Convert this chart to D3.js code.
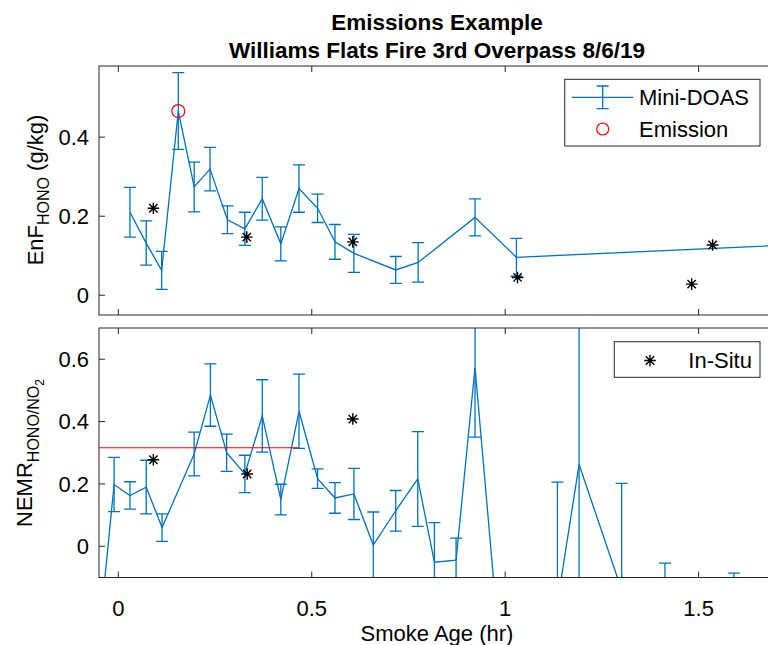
<!DOCTYPE html>
<html><head><meta charset="utf-8">
<script src="https://cdn.jsdelivr.net/npm/d3@7"></script>
<style>body{margin:0;background:#fff}svg{display:block}text{font-family:"Liberation Sans",Arial,sans-serif;fill:#000}</style>
</head><body><svg id="c" width="768" height="645"></svg>
<script>
// ---- data ----
const doasX   = [0.030,0.072,0.112,0.155,0.196,0.237,0.282,0.327,0.372,0.420,0.467,0.515,0.560,0.609,0.717,0.775,0.922,1.029,1.75];
const enfY    = [0.210,0.132,0.063,0.466,0.274,0.319,0.191,0.168,0.244,0.130,0.270,0.220,0.135,0.106,0.064,0.083,0.197,0.096,0.128];
const enfErr  = [0.063,0.056,0.048,0.097,0.063,0.055,0.035,0.042,0.054,0.043,0.060,0.036,0.044,0.048,0.034,0.050,0.047,0.048,0.050];
const emisX   = [0.155];
const emisY   = [0.466];
const insituX = [0.0905,0.332,0.606,1.032,1.482,1.536];
const insituEnF = [0.220,0.147,0.135,0.045,0.028,0.127];

const nemrX   = [-0.045,-0.011,0.030,0.072,0.113,0.196,0.238,0.280,0.327,0.372,0.420,0.467,0.515,0.560,0.609,0.659,0.717,0.774,0.817,0.873,0.922,0.980,1.135,1.191,1.301,1.413,1.591];
const nemrY   = [-0.23,0.198,0.163,0.190,0.060,0.296,0.485,0.300,0.232,0.418,0.150,0.433,0.217,0.155,0.168,0.004,0.114,0.216,-0.051,-0.044,0.573,-0.25,-0.181,0.2625,-0.14,-0.30,-0.30];
const nemrErr = [0.10,0.087,0.044,0.086,0.044,0.070,0.100,0.060,0.060,0.116,0.049,0.119,0.031,0.049,0.082,0.106,0.065,0.152,0.127,0.070,0.223,0.10,0.387,0.50,0.342,0.246,0.214];
const insituNemrX = [0.0905,0.333,0.606];
const insituNemr  = [0.2775,0.232,0.408];
const emisLineX = [-0.05,0.467];
const emisLineY = [0.316,0.316];

const xTicks = [0,0.5,1,1.5];
const xTickLabels = ["0","0.5","1","1.5"];
const enfTicks = [0,0.2,0.4];
const nemrTicks = [0,0.2,0.4,0.6];

const titleLines = ["Emissions Example","Williams Flats Fire 3rd Overpass 8/6/19"];

// ---- layout ----
const svg = d3.select("#c");
const BLUE = "#0072BD", AX = "#262626";
const L = 99, R = 776;
const x = d3.scaleLinear().domain([-0.05,1.7]).range([L,R]);
const yTop = d3.scaleLinear().domain([-0.05,0.58]).range([315,66]);
const yBot = d3.scaleLinear().domain([-0.1,0.7]).range([577.5,328]);

function panel(id, y, ticks) {
  const [b,t] = y.range();
  svg.append("clipPath").attr("id",id).append("rect").attr("x",L).attr("y",t).attr("width",R-L).attr("height",b-t);
  const g = svg.append("g");
  xTicks.forEach(v=>{
    g.append("line").attr("x1",x(v)).attr("x2",x(v)).attr("y1",b).attr("y2",b-6).attr("stroke",AX);
    g.append("line").attr("x1",x(v)).attr("x2",x(v)).attr("y1",t).attr("y2",t+6).attr("stroke",AX);
  });
  ticks.forEach(v=>{
    g.append("line").attr("x1",L).attr("x2",L+6).attr("y1",y(v)).attr("y2",y(v)).attr("stroke",AX);
    g.append("text").attr("x",89).attr("y",y(v)).attr("dy","0.35em").attr("text-anchor","end")
      .attr("font-size",22).text(d3.format("")(v));
  });
  const plot = svg.append("g").attr("clip-path",`url(#${id})`);
  return {g, plot, b, t};
}

function errorbars(plot, xs, ys, es, y) {
  const pts = xs.map((v,i)=>[v,ys[i],es[i]]);
  const cap = 6;
  pts.forEach(([xv,yv,e])=>{
    const px = x(xv), y1 = y(yv+e), y0 = y(yv-e);
    plot.append("path").attr("d",`M${px},${y0}V${y1}M${px-cap},${y1}H${px+cap}M${px-cap},${y0}H${px+cap}`)
      .attr("stroke",BLUE).attr("stroke-width",1.3).attr("fill","none");
  });
  plot.append("path").datum(pts).attr("d",d3.line().x(d=>x(d[0])).y(d=>y(d[1])))
    .attr("stroke",BLUE).attr("stroke-width",1.3).attr("fill","none");
}

function star(g, cx, cy, r) {
  const d = r*0.72;
  g.append("path").attr("d",`M${cx},${cy-r}V${cy+r}M${cx-r},${cy}H${cx+r}M${cx-d},${cy-d}L${cx+d},${cy+d}M${cx-d},${cy+d}L${cx+d},${cy-d}`)
    .attr("stroke","#000").attr("stroke-width",1.4).attr("fill","none");
}

// ---- top panel ----
const P1 = panel("clipTop", yTop, enfTicks);
errorbars(P1.plot, doasX, enfY, enfErr, yTop);
emisX.forEach((v,i)=>P1.plot.append("circle").attr("cx",x(v)).attr("cy",yTop(emisY[i])).attr("r",6.5)
  .attr("fill","none").attr("stroke","#FF0000").attr("stroke-width",1.2));
insituX.forEach((v,i)=>star(P1.plot, x(v), yTop(insituEnF[i]), 5.8));

// ---- bottom panel ----
const P2 = panel("clipBot", yBot, nemrTicks);
errorbars(P2.plot, nemrX, nemrY, nemrErr, yBot);
P2.plot.append("path").datum(emisLineX.map((v,i)=>[v,emisLineY[i]]))
  .attr("d",d3.line().x(d=>x(d[0])).y(d=>yBot(d[1]))).attr("stroke","#FF0000").attr("stroke-width",1.2).attr("fill","none");
insituNemrX.forEach((v,i)=>star(P2.plot, x(v), yBot(insituNemr[i]), 5.8));

// axes boxes (right edge falls outside the page)
[yTop,yBot].forEach(y=>{
  const [b,t] = y.range();
  svg.append("rect").attr("x",L).attr("y",t).attr("width",R-L).attr("height",b-t)
    .attr("fill","none").attr("stroke",AX).attr("stroke-width",1);
});

// x tick labels (bottom panel only)
xTicks.forEach((v,i)=>svg.append("text").attr("x",x(v)).attr("y",616).attr("text-anchor","middle")
  .attr("font-size",22).text(xTickLabels[i]));
svg.append("text").attr("x",437).attr("y",641).attr("text-anchor","middle").attr("font-size",22).text("Smoke Age (hr)");

// title
svg.append("text").attr("x",437).attr("y",30).attr("text-anchor","middle").attr("font-size",22.5).attr("font-weight","bold").text(titleLines[0]);
svg.append("text").attr("x",437).attr("y",58).attr("text-anchor","middle").attr("font-size",22.5).attr("font-weight","bold").text(titleLines[1]);

// y labels
const yl1 = svg.append("text").attr("transform","translate(43,190) rotate(-90)").attr("text-anchor","middle").attr("font-size",22);
yl1.append("tspan").text("EnF");
yl1.append("tspan").attr("font-size",16).attr("dy",6).text("HONO");
yl1.append("tspan").attr("dy",-6).text(" (g/kg)");
const yl2 = svg.append("text").attr("transform","translate(32,453) rotate(-90)").attr("text-anchor","middle").attr("font-size",22);
yl2.append("tspan").text("NEMR");
yl2.append("tspan").attr("font-size",16).attr("dy",7).text("HONO/NO");
yl2.append("tspan").attr("font-size",12).attr("dy",5).text("2");

// legends
const lg1 = svg.append("g");
lg1.append("rect").attr("x",564.7).attr("y",79.3).attr("width",195.3).attr("height",66.7).attr("fill","#fff").attr("stroke",AX);
lg1.append("path").attr("d","M571.7,97.3H633.3M602.7,86V108.7M596.7,86H608.7M596.7,108.7H608.7").attr("stroke",BLUE).attr("stroke-width",1.3).attr("fill","none");
lg1.append("text").attr("x",639).attr("y",97.3).attr("dy","0.35em").attr("font-size",22).text("Mini-DOAS");
lg1.append("circle").attr("cx",602.7).attr("cy",129).attr("r",6).attr("fill","none").attr("stroke","#FF0000").attr("stroke-width",1.2);
lg1.append("text").attr("x",639).attr("y",129).attr("dy","0.35em").attr("font-size",22).text("Emission");
const lg2 = svg.append("g");
lg2.append("rect").attr("x",614.3).attr("y",341.7).attr("width",145.7).attr("height",35.6).attr("fill","#fff").attr("stroke",AX);
star(lg2, 650, 360.5, 5.8);
lg2.append("text").attr("x",688.3).attr("y",360).attr("dy","0.35em").attr("font-size",22).text("In-Situ");
</script></body></html>
